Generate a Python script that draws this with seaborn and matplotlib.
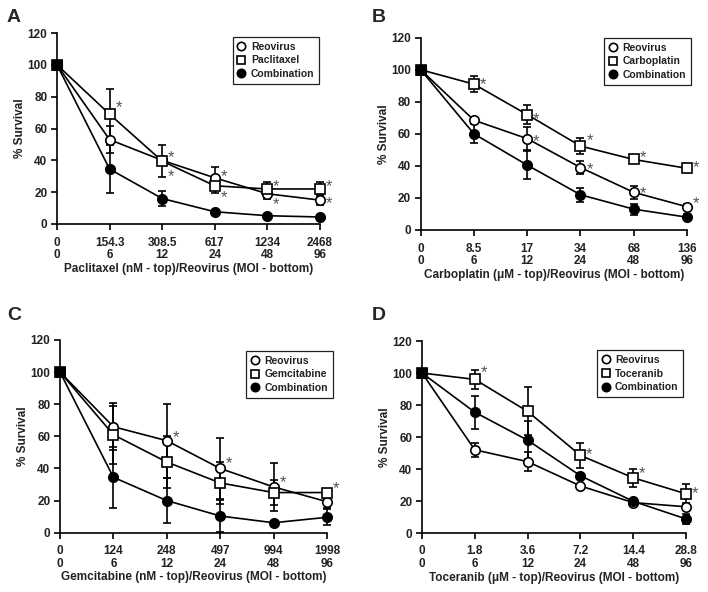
import matplotlib
matplotlib.use("Agg")
import matplotlib.pyplot as plt
import seaborn as sns
import numpy as np
from matplotlib.lines import Line2D

sns.set_style("ticks")
plt.rcParams['font.family'] = ['Liberation Sans', 'DejaVu Sans']

moi_labels = ["0", "6", "12", "24", "48", "96"]

# Panel A
A_top = ["0", "154.3", "308.5", "617", "1234", "2468"]
A_drug = "Paclitaxel"
A_reo = [100, 53, 40, 29, 19, 15]
A_reo_err = [0, 8.5, 2, 6.5, 3.5, 3]
A_drg = [100, 69, 39.5, 24, 22, 22]
A_drg_err = [0, 16, 10, 4.5, 4.5, 4.5]
A_cmb = [100, 34.5, 16, 7.7, 5.2, 4.4]
A_cmb_err = [0, 15, 5, 1, 1, 1]
A_stars = [(1, 76), (2, 44.5), (2, 33), (3, 33), (3, 19.7), (4, 26.6), (4, 15), (5, 26.6), (5, 15.7)]
A_xlabel = "Paclitaxel (nM - top)/Reovirus (MOI - bottom)"

# Panel B
B_top = ["0", "8.5", "17", "34", "68", "136"]
B_drug = "Carboplatin"
B_reo = [100, 68.5, 57, 39, 23.5, 14.5]
B_reo_err = [0, 1, 7, 4, 4, 1.5]
B_drg = [100, 91, 72, 52.4, 44, 38.5]
B_drg_err = [0, 5, 6, 5, 2, 1.5]
B_cmb = [100, 60, 40.5, 22, 13, 8]
B_cmb_err = [0, 6, 8.5, 4.5, 3.5, 2]
B_stars = [(1, 93.6), (2, 72), (2, 58), (3, 59), (3, 41), (4, 48.5), (4, 26), (5, 42), (5, 19.3)]
B_xlabel = "Carboplatin (μM - top)/Reovirus (MOI - bottom)"

# Panel C
C_top = ["0", "124", "248", "497", "994", "1998"]
C_drug = "Gemcitabine"
C_reo = [100, 66, 57.3, 40, 28.5, 19.3]
C_reo_err = [0, 14.5, 23, 19, 15, 4]
C_drg = [100, 61, 44, 31, 25, 25]
C_drg_err = [0, 18, 16, 13, 8, 1]
C_cmb = [100, 34.5, 20, 10.4, 6.2, 9.6]
C_cmb_err = [0, 19, 14, 10, 1, 5]
C_stars = [(2, 62.4), (3, 45.8), (4, 34.3), (5, 30.6)]
C_xlabel = "Gemcitabine (nM - top)/Reovirus (MOI - bottom)"

# Panel D
D_top = ["0", "1.8", "3.6", "7.2", "14.4", "28.8"]
D_drug = "Toceranib"
D_reo = [100, 52, 44.6, 29.4, 19, 16.4]
D_reo_err = [0, 4.5, 6, 1, 1, 1]
D_drg = [100, 96, 76, 48.5, 34.5, 24.5]
D_drg_err = [0, 6, 15, 8, 5.5, 6]
D_cmb = [100, 75.5, 58, 35.8, 19.8, 8.8]
D_cmb_err = [0, 10.4, 12, 2, 1, 3]
D_stars = [(1, 103.4), (3, 52), (4, 40), (5, 27.9)]
D_xlabel = "Toceranib (μM - top)/Reovirus (MOI - bottom)"

panels = [
    ("A", A_top, A_drug, A_reo, A_reo_err, A_drg, A_drg_err, A_cmb, A_cmb_err, A_stars, A_xlabel,
     [57, 320, 33, 224], (0.996, 0.979)),
    ("B", B_top, B_drug, B_reo, B_reo_err, B_drg, B_drg_err, B_cmb, B_cmb_err, B_stars, B_xlabel,
     [420.7, 687, 37.7, 230], (1.014, 0.998)),
    ("C", C_top, C_drug, C_reo, C_reo_err, C_drg, C_drg_err, C_cmb, C_cmb_err, C_stars, C_xlabel,
     [60, 327, 340, 532.7], (1.022, 0.943)),
    ("D", D_top, D_drug, D_reo, D_reo_err, D_drg, D_drg_err, D_cmb, D_cmb_err, D_stars, D_xlabel,
     [422, 686, 341, 533], (0.989, 0.952)),
]
label_pos = {"A": (7, 17), "B": (372, 18), "C": (7, 315), "D": (372, 316)}

W, H = 708, 592
fig = plt.figure(figsize=(W / 100, H / 100), dpi=100)

LW = 1.2
MS = 6.8
FW = 'bold'

for (lab, top, drug, reo, reo_e, drg, drg_e, cmb, cmb_e, stars, xlabel, box, legpos) in panels:
    l, r, t, b = box
    ax = fig.add_axes([l / W, 1 - b / H, (r - l) / W, (b - t) / H])
    x = np.arange(len(top))
    series = [
        (reo, reo_e, 'o', 'white'),
        (drg, drg_e, 's', 'white'),
        (cmb, cmb_e, 'o', 'black'),
    ]
    for vals, errs, mk, fc in series:
        ax.errorbar(x, vals, yerr=errs, fmt='none', ecolor='black', elinewidth=LW,
                    capsize=3, capthick=LW, zorder=2, clip_on=False)
    for vals, errs, mk, fc in series:
        sns.lineplot(x=x, y=vals, ax=ax, color='black', linewidth=LW, marker=mk,
                     markersize=MS, markerfacecolor=fc, markeredgecolor='black',
                     markeredgewidth=1.2, sort=False, errorbar=None, zorder=3,
                     clip_on=False)
    # overlapping start point drawn as filled square
    sns.lineplot(x=x[:1], y=drg[:1], ax=ax, color='black', marker='s', markersize=MS + 1,
                 markerfacecolor='black', markeredgecolor='black', linewidth=0,
                 errorbar=None, zorder=4, clip_on=False)
    for xi, yi in stars:
        ax.annotate("*", xy=(xi, yi), xytext=(6.5, -6.8), textcoords='offset points',
                    ha='center', va='baseline', fontsize=12, color='#555555', zorder=5,
                    annotation_clip=False)
    ax.set_xlim(0, len(top) - 1)
    ax.set_ylim(0, 120)
    ax.set_yticks([0, 20, 40, 60, 80, 100, 120])
    ax.set_xticks(x)
    ax.set_xticklabels([f"{a}\n{m}" for a, m in zip(top, moi_labels)], linespacing=1.1)
    for tl in ax.get_xticklabels() + ax.get_yticklabels():
        tl.set_fontsize(8.5)
        tl.set_fontweight(FW)
        tl.set_color('#222222')
    ax.tick_params(axis='both', direction='out', length=4, width=LW, color='black', pad=3)
    ax.tick_params(axis='x', pad=5)
    ax.set_xlabel(xlabel, fontsize=8.5, fontweight=FW, color='#222222', labelpad=1)
    ax.set_ylabel("% Survival", fontsize=8.5, fontweight=FW, color='#222222', labelpad=1)
    for sp in ['top', 'right']:
        ax.spines[sp].set_visible(False)
    for sp in ['left', 'bottom']:
        ax.spines[sp].set_linewidth(LW)
        ax.spines[sp].set_color('black')
    handles = [
        Line2D([], [], linestyle='none', marker='o', markersize=6, markerfacecolor='white',
               markeredgecolor='black', markeredgewidth=1.2, label="Reovirus"),
        Line2D([], [], linestyle='none', marker='s', markersize=5.5, markerfacecolor='white',
               markeredgecolor='black', markeredgewidth=1.2, label=drug),
        Line2D([], [], linestyle='none', marker='o', markersize=6, markerfacecolor='black',
               markeredgecolor='black', markeredgewidth=1.2, label="Combination"),
    ]
    leg = ax.legend(handles=handles, loc='upper right', bbox_to_anchor=legpos, borderaxespad=0,
                    frameon=True, fancybox=False, edgecolor='#222222', framealpha=1,
                    prop={'size': 7.5, 'weight': FW}, handlelength=0.8, handletextpad=0.5,
                    labelspacing=0.35, borderpad=0.45)
    leg.get_frame().set_linewidth(0.9)
    for txt in leg.get_texts():
        txt.set_color('#222222')
    px, py = label_pos[lab]
    fig.text(px / W, 1 - py / H, lab, fontsize=14, fontweight='bold', va='center', ha='left')

fig.savefig("out.png", dpi=100)
